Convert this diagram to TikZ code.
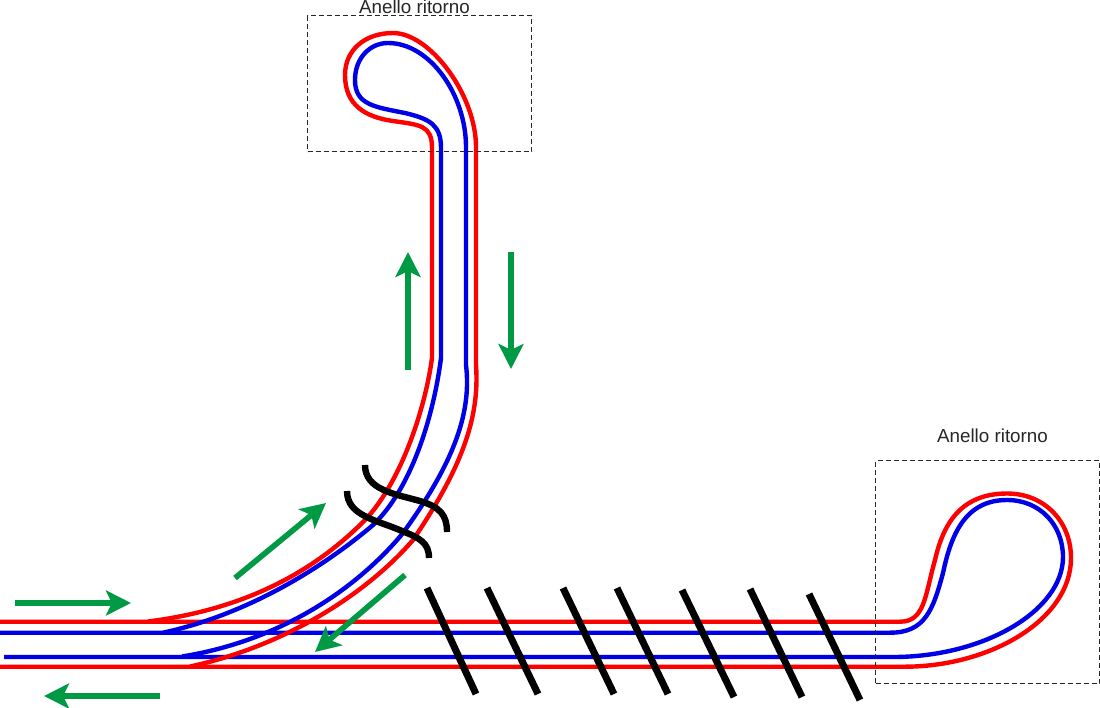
\documentclass[tikz,border=0pt]{standalone}
\usepackage{fontspec}
\setmainfont{Liberation Sans}
\usetikzlibrary{arrows.meta}
\definecolor{pipegreen}{RGB}{0,153,68}
\definecolor{pipered}{RGB}{255,0,0}
\definecolor{pipeblue}{RGB}{0,0,230}
\tikzset{
  redpipe/.style={draw=pipered,line width=4.4pt,line join=round},
  bluepipe/.style={draw=pipeblue,line width=4.4pt,line join=round},
  hatch/.style={draw=black,line width=7pt},
  wave/.style={draw=black,line width=6.4pt},
  flow/.style={draw=pipegreen,line width=5.6pt,-{Stealth[length=25pt,width=25pt,inset=6pt]}},
  frame/.style={draw=black!85,line width=1.1pt,dash pattern=on 5pt off 3pt},
  lbl/.style={font=\fontsize{18.8pt}{20pt}\selectfont,text=black!85,inner sep=0pt}
}
\begin{document}
\begin{tikzpicture}[x=1pt,y=-1pt]
\useasboundingbox (0,0) rectangle (1100,707);
% straight runs + right loop
\draw[redpipe] (0,621.7) -- (900,621.7)
  .. controls (925,621.7) and (925,595) .. (935,560)
  .. controls (943,525) and (960,493.5) .. (1007,493.5)
  .. controls (1045,493.5) and (1071,522) .. (1071,558)
  .. controls (1071,620) and (990,666.5) .. (905,666.7) -- (0,666.7);
\draw[bluepipe] (0,632.7) -- (890,632.7)
  .. controls (925,632.7) and (933,610) .. (943,573)
  .. controls (951,535) and (965,500) .. (1007,500)
  .. controls (1040,500) and (1063,525) .. (1063,557)
  .. controls (1063,610) and (985,657) .. (893,657) -- (4,657);
% branch, red
\draw[redpipe] (148,621.5)
  .. controls (240,610) and (310,575) .. (363,522)
  .. controls (400,485) and (425,410) .. (432,358) -- (432,148)
  .. controls (432,125) and (420,125) .. (393,121)
  .. controls (365,117) and (345,105) .. (345,75)
  .. controls (345,50) and (365,33) .. (393,33)
  .. controls (430,33) and (476,95) .. (476,147) -- (476,365)
  .. controls (480,420) and (460,470) .. (413,540)
  .. controls (370,590) and (290,645) .. (190,666.5);
% branch, blue
\draw[bluepipe] (163,632.7)
  .. controls (245,615) and (320,570) .. (373,525)
  .. controls (410,490) and (433,420) .. (441,358) -- (441,148)
  .. controls (441,125) and (430,119) .. (405,113)
  .. controls (375,107) and (355,105) .. (355,80)
  .. controls (355,58) and (370,43) .. (388,43)
  .. controls (430,43) and (466,95) .. (466,147) -- (466,365)
  .. controls (472,415) and (452,465) .. (403,533)
  .. controls (360,585) and (285,640) .. (182,656.5);
% hatches
\draw[hatch] (427,588) -- (476,694);
\draw[hatch] (487,588) -- (538,694);
\draw[hatch] (563,588) -- (614,694);
\draw[hatch] (617,588) -- (668,694);
\draw[hatch] (682,590) -- (734,697);
\draw[hatch] (750,589) -- (802,697);
\draw[hatch] (809,594) -- (860,700);
% break marks
\draw[wave] (365,465) .. controls (365,490) and (395,494) .. (420,501) .. controls (440,507) and (447,515) .. (447,532);
\draw[wave] (347,491) .. controls (347,516) and (377,520) .. (402,531) .. controls (420,538) and (429,543) .. (429,558);
% flow arrows
\draw[flow] (408,370) -- (408,252);
\draw[flow] (511,252) -- (511,369);
\draw[flow] (235,578) -- (326,503);
\draw[flow] (15,603) -- (131,603);
\draw[flow] (405,575) -- (315,652);
\draw[flow] (160,696) -- (44,696);
% frames
\node[frame,draw,minimum width=224pt,minimum height=136pt,anchor=north west,inner sep=0pt] (topframe) at (307,15) {};
\node[frame,draw,minimum width=224pt,minimum height=223pt,anchor=north west,inner sep=0pt] (rightframe) at (875,460) {};
\node[lbl] (toplabel) at (414.5,6.5) {Anello ritorno};
\node[lbl] (rightlabel) at (992.5,436) {Anello ritorno};
\end{tikzpicture}
\end{document}
